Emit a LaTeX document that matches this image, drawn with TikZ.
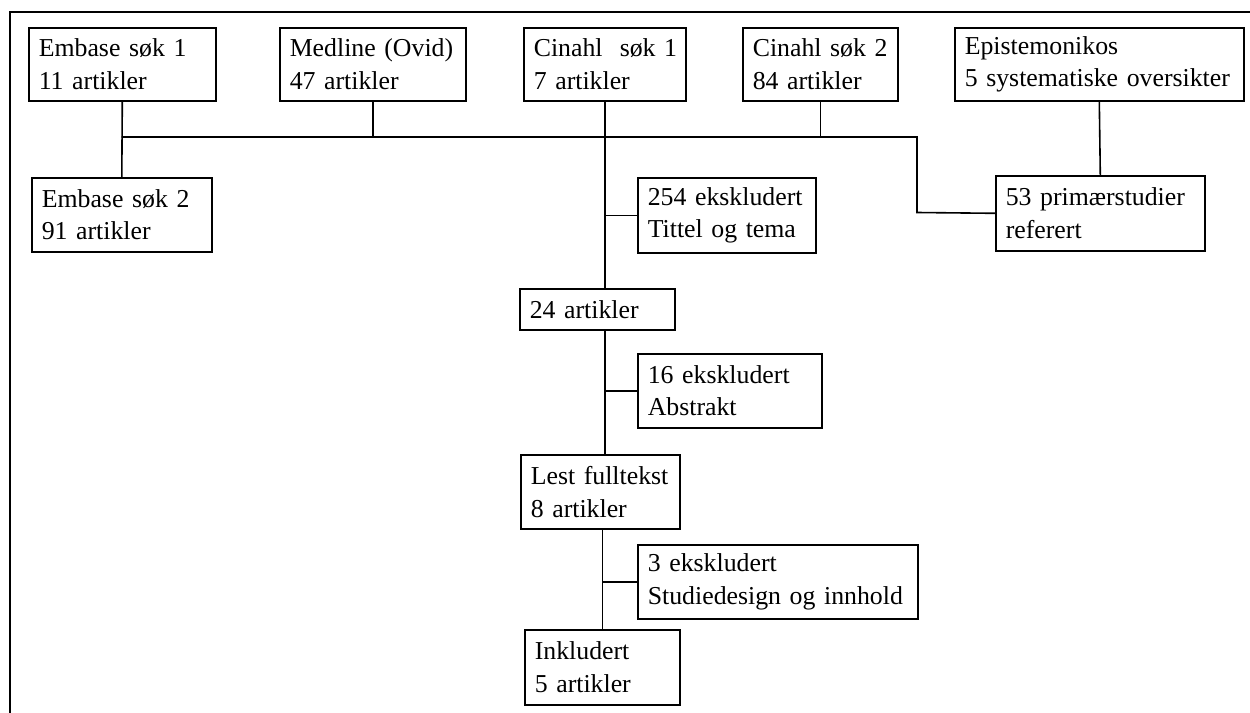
\documentclass[tikz,border=0pt]{standalone}
\usepackage{fontspec}
\setmainfont{Liberation Serif}
\begin{document}
\begin{tikzpicture}[x=1pt,y=-1pt,
  flowbox/.style={draw, line width=1.6pt, anchor=north west, inner xsep=10pt, inner ysep=0pt,
    align=left, font=\fontsize{25.8}{32.5}\selectfont},
  link/.style={line width=1.6pt}]
\useasboundingbox (0,0) rectangle (1250,712);
\fill[white] (0,0) rectangle (1250,712);
\draw[line width=2.6pt] (10,716) -- (10,12) -- (1254,12);

\node[flowbox, text width=167pt, minimum height=73pt] (e1) at (28,27) {Embase søk 1\\11 artikler};
\node[flowbox, text width=166pt, minimum height=73pt] (med) at (279,27) {Medline (Ovid)\\47 artikler};
\node[flowbox, text width=142pt, minimum height=73pt] (c1) at (523,27) {\mbox{Cinahl\ \ søk 1}\\7 artikler};
\node[flowbox, text width=135pt, minimum height=73pt] (c2) at (742,27) {Cinahl søk 2\\84 artikler};
\node[flowbox, text width=269pt, minimum height=73pt] (epi) at (954,27) {Epistemonikos\\\mbox{5 systematiske oversikter}};
\node[flowbox, text width=160pt, minimum height=74pt] (e2) at (31,177) {Embase søk 2\\91 artikler};
\node[flowbox, text width=158pt, minimum height=75pt] (ex254) at (637,177) {254 ekskludert\\Tittel og tema};
\node[flowbox, text width=189pt, minimum height=75pt] (p53) at (995,175) {53 primærstudier\\referert};
\node[flowbox, text width=135pt, minimum height=41pt] (a24) at (519,288) {24 artikler};
\node[flowbox, text width=164pt, minimum height=74pt] (ex16) at (637,353) {16 ekskludert\\Abstrakt};
\node[flowbox, text width=139pt, minimum height=74pt] (lest) at (520,454) {Lest fulltekst\\8 artikler};
\node[flowbox, text width=260pt, minimum height=74pt] (ex3) at (637,544) {3 ekskludert\\\mbox{Studiedesign og innhold}};
\node[flowbox, text width=135pt, minimum height=75pt] (inkl) at (524,629) {Inkludert\\5 artikler};

\coordinate (jL) at (121.5,137);
\coordinate (jR) at (917,137);
\coordinate (jD) at (917,212.5);

\draw[link] (e1.south) -- (e2.north);
\draw[link] (jL) -- (jR) -- (jD) -- (p53.west);
\draw[link] (med.south) -- (med.south |- jL);
\draw[link] (c2.south) -- (c2.south |- jL);
\draw[link] (epi.south) -- (p53.north);
\draw[link] (c1.south) -- (c1.south |- a24.north);
\draw[link] (c1.south |- ex254.west) -- (ex254.west);
\draw[link] (c1.south |- a24.south) -- (c1.south |- lest.north);
\draw[link] (c1.south |- ex16.west) -- (ex16.west);
\draw[link] (inkl.north |- lest.south) -- (inkl.north);
\draw[link] (inkl.north |- ex3.west) -- (ex3.west);
\end{tikzpicture}
\end{document}
